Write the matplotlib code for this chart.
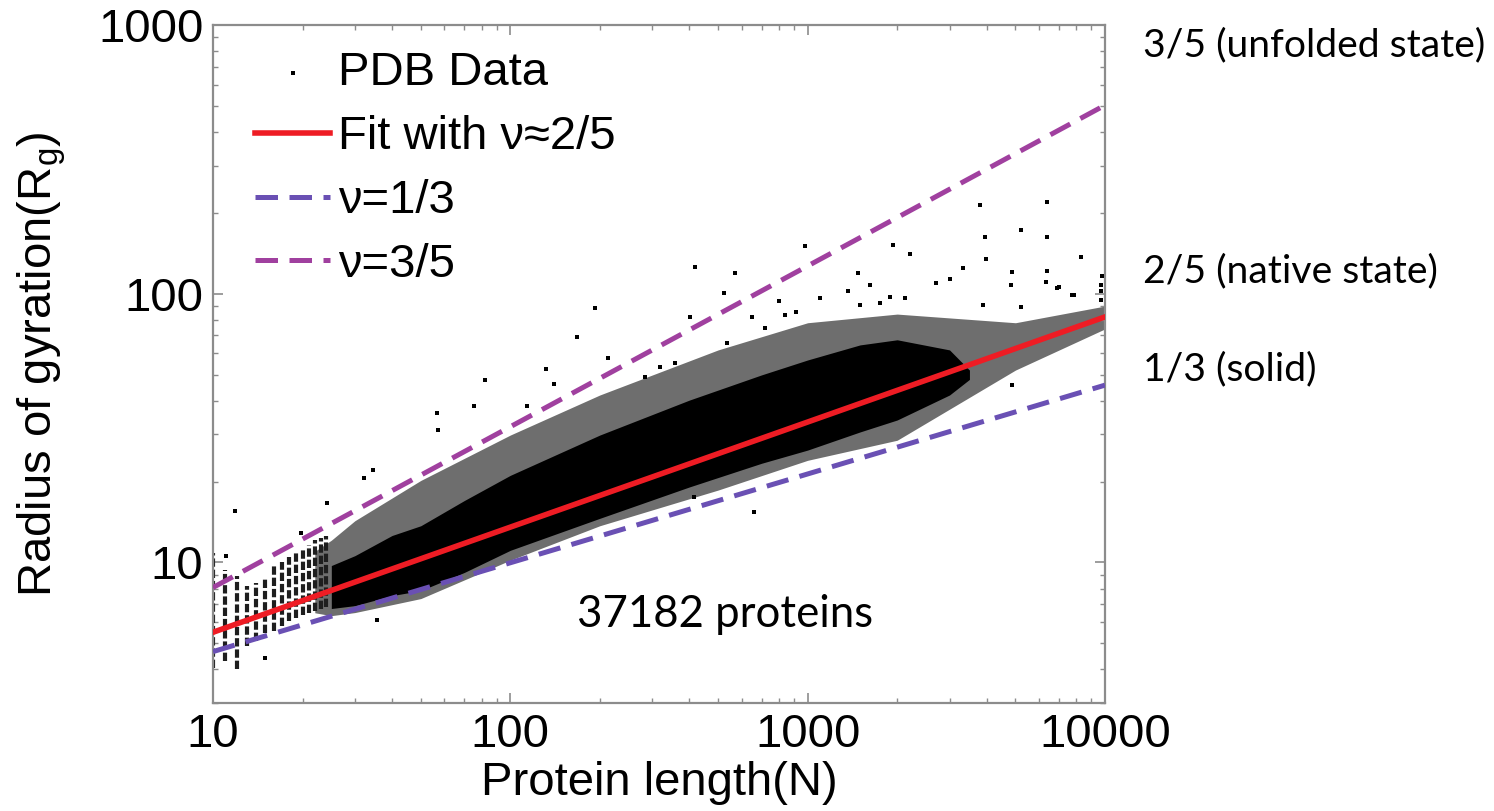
import matplotlib
matplotlib.use("Agg")
import matplotlib.pyplot as plt
from matplotlib.ticker import FuncFormatter, LogLocator, NullFormatter

# power-law guide lines, end values at N = 10 and N = 10000
line_n = [10, 10000]
fit_rg = [5.5, 82.0]        # fit, nu ~ 2/5
solid_rg = [4.66, 45.7]     # nu = 1/3
unfolded_rg = [8.07, 503.0]  # nu = 3/5

# short chains show up as vertical columns of points at integer N
stripe_n = [10, 11, 12, 13, 14, 15, 16, 17, 18, 19, 20, 21, 22, 23, 24]
stripe_lo = [4.06, 4.31, 4.02, 4.90, 5.12, 5.48, 5.58, 5.82, 6.07, 6.23, 6.40, 6.51, 6.62, 6.74, 6.85]
stripe_hi = [10.8, 9.34, 8.94, 8.21, 8.42, 8.72, 9.74, 10.0, 10.5, 10.9, 11.3, 11.6, 12.1, 12.3, 12.6]

# sparse outer part of the cloud (envelope)
fringe_n = [22, 25, 30, 50, 100, 200, 500, 1000, 2000, 5000, 10000]
fringe_lo = [6.5, 6.34, 6.51, 7.34, 10.2, 13.7, 18.6, 24.0, 28.5, 52.0, 74.0]
fringe_hi = [11.0, 12.1, 14.3, 20.2, 29.8, 42.0, 61.8, 78.0, 84.0, 78.0, 90.0]

# dense core of the cloud (envelope)
core_n = [25, 30, 40, 50, 70, 100, 200, 400, 700, 1000, 1500, 2000, 3000, 3500]
core_lo = [6.74, 6.91, 7.53, 7.86, 9.18, 11.1, 14.6, 19.1, 23.4, 26.2, 30.6, 33.9, 42.0, 48.0]
core_hi = [9.74, 10.6, 12.6, 13.7, 17.0, 21.1, 29.8, 40.2, 49.9, 56.7, 64.5, 67.4, 61.8, 52.0]

# individual proteins lying away from the cloud
out_n = [192, 168, 213, 132, 284, 82.3, 140, 75.6, 114, 56.7, 57.1, 34.4, 32.1, 11.9, 24.1,
         19.7, 35.5, 15.0, 11.1, 418, 571, 977, 524, 402, 652, 804, 911, 662, 415, 3811,
         6371, 3963, 5203, 6371, 3994, 8295, 3339, 4852, 6371, 1938, 2211, 1476, 9768, 4852,
         4814, 6322, 6993, 7736, 9695, 9695, 9695, 3018, 2706, 2127, 1892, 1751, 1499, 3901,
         5203, 6883, 7859, 358, 319, 537, 721, 836, 1098, 1365, 1620]
out_rg = [88.7, 69.1, 57.7, 52.5, 49.0, 47.8, 46.1, 38.2, 38.2, 36.0, 31.1, 22.0, 20.6, 15.6, 16.6,
          12.9, 6.13, 4.42, 10.6, 126, 119, 151, 101, 82.1, 82.1, 94.2, 85.7, 15.4, 17.5, 213,
          219, 163, 173, 163, 135, 137, 125, 120, 122, 152, 140, 119, 116, 45.8,
          108, 111, 106, 99.1, 108, 102, 95.0, 113, 110, 96.6, 97.4, 92.6, 91.0, 91.0,
          89.4, 105, 99.1, 55.3, 53.4, 65.7, 74.7, 83.5, 96.6, 102, 108]

plt.rcParams["font.family"] = ["Liberation Sans", "DejaVu Sans"]
plt.rcParams["mathtext.fontset"] = "custom"
plt.rcParams["mathtext.rm"] = "Liberation Sans"
plt.rcParams["mathtext.it"] = "Liberation Sans:italic"

fig = plt.figure(figsize=(14.94, 8.11), dpi=100)
ax = fig.add_axes([213 / 1494, 1 - 703 / 811, 892 / 1494, 678 / 811])

ax.fill_between(fringe_n, fringe_lo, fringe_hi, color="#6e6e6e", lw=0, zorder=1)
ax.fill_between(core_n, core_lo, core_hi, color="black", lw=0, zorder=2)
ax.vlines(stripe_n, stripe_lo, stripe_hi, colors="#1e1e1e", lw=3,
          linestyles=[(0, (2.0, 0.7))], zorder=2)
ax.scatter(out_n, out_rg, s=7, marker="s", c="black", lw=0, zorder=3, label="PDB Data")

ax.plot(line_n, fit_rg, color="#ee1c24", lw=4, zorder=6, label="Fit with ν≈2/5")
ax.plot(line_n, solid_rg, color="#6a50b4", lw=3.6, ls=(0, (4.5, 2.3)), zorder=5, label="ν=1/3")
ax.plot(line_n, unfolded_rg, color="#a0409f", lw=3.6, ls=(0, (4.5, 2.3)), zorder=5, label="ν=3/5")

ax.set_xscale("log")
ax.set_yscale("log")
ax.set_xlim(10, 10000)
ax.set_ylim(3, 1000)

fmt = FuncFormatter(lambda v, _: f"{v:g}")
for axis in (ax.xaxis, ax.yaxis):
    axis.set_major_locator(LogLocator(base=10))
    axis.set_minor_locator(LogLocator(base=10, subs=range(2, 10)))
    axis.set_major_formatter(fmt)
    axis.set_minor_formatter(NullFormatter())

ax.tick_params(which="both", direction="in", top=True, right=True,
               colors="#8c8c8c", labelcolor="black", labelsize=34)
ax.tick_params(which="major", length=7, width=1.2, pad=7)
ax.tick_params(which="minor", length=3.5, width=1.0)
for sp in ax.spines.values():
    sp.set_color("#8c8c8c")
    sp.set_linewidth(1.6)

ax.set_xlabel("Protein length(N)", fontsize=34)
ax.xaxis.set_label_coords(0.5, -0.085)
ax.set_ylabel("Radius of gyration(R$_{\\rm g}$)", fontsize=34)
ax.yaxis.set_label_coords(-0.162, 0.5)

ax.legend(loc="upper left", bbox_to_anchor=(0.047, 0.961), frameon=False, fontsize=34,
          handlelength=1.6, handletextpad=0.15, labelspacing=0.42, borderpad=0,
          borderaxespad=0, markerscale=1.0, scatterpoints=1)

ax.text(0.408, 0.112, "37182 proteins", transform=ax.transAxes, fontsize=31.5,
        family=["Lato", "DejaVu Sans"], va="baseline", ha="left")

side_font = ["Lato", "DejaVu Sans"]
fig.text(1143 / 1494, 1 - 56 / 811, "3/5 (unfolded state)", fontsize=28.2, family=side_font, va="baseline")
fig.text(1143 / 1494, 1 - 282 / 811, "2/5 (native state)", fontsize=28.2, family=side_font, va="baseline")
fig.text(1143 / 1494, 1 - 380 / 811, "1/3 (solid)", fontsize=28.2, family=side_font, va="baseline")

fig.savefig("out.png", dpi=100)
